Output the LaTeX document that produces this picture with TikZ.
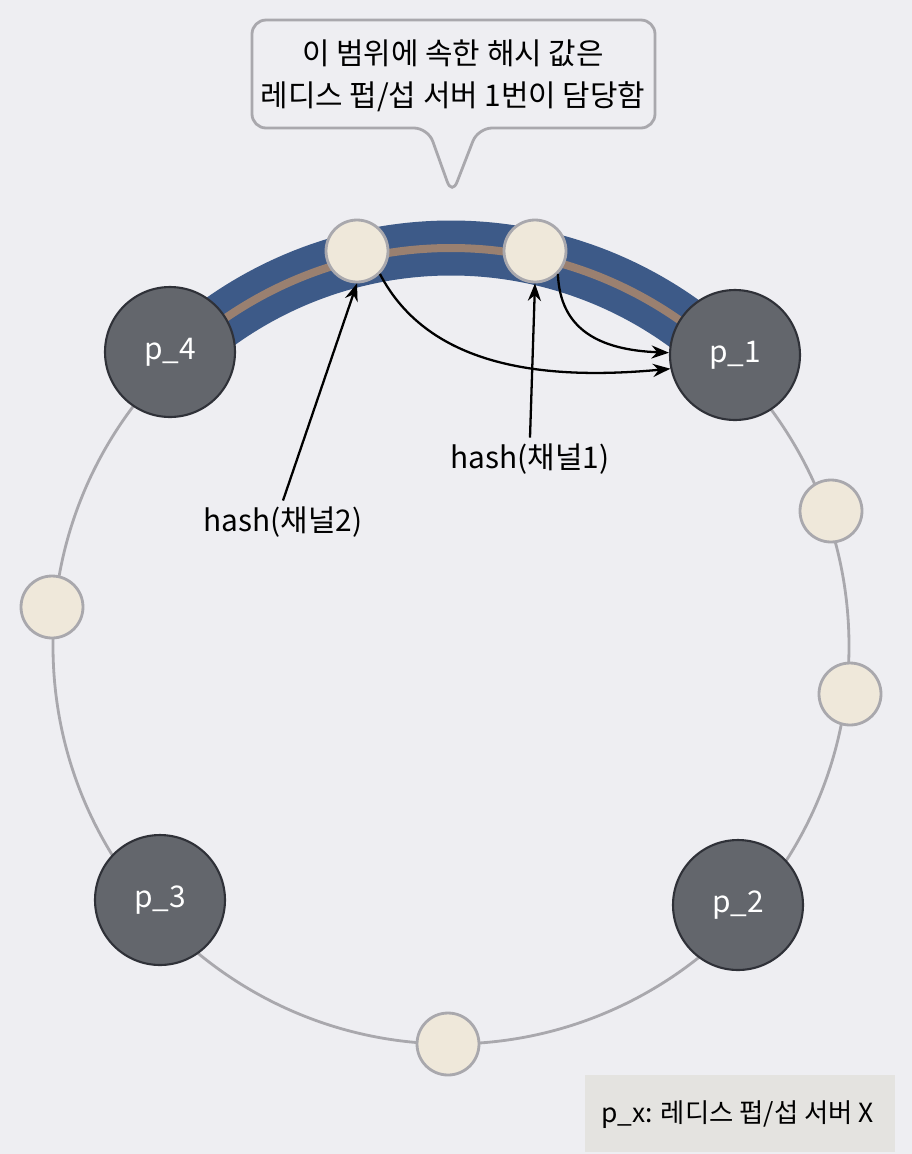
\documentclass[tikz,border=0pt]{standalone}
\usepackage{fontspec}
\setmainfont{Noto Sans CJK KR}
\usetikzlibrary{arrows.meta}
\definecolor{bgcol}{HTML}{EEEEF2}
\definecolor{ringcol}{HTML}{A9A8AD}
\definecolor{bandcol}{HTML}{3D5A88}
\definecolor{browncol}{HTML}{9A8070}
\definecolor{servfill}{HTML}{63666C}
\definecolor{servdraw}{HTML}{2F3138}
\definecolor{hashfill}{HTML}{EFE8DA}
\definecolor{legfill}{HTML}{E4E3E0}
\begin{document}
\begin{tikzpicture}[x=0.02cm,y=-0.02cm,
	server/.style={circle, minimum size=2.6cm, inner sep=0pt, fill=servfill, draw=servdraw, line width=1.2pt, text=white, font=\fontsize{17}{20}\selectfont},
	hashpt/.style={circle, minimum size=1.24cm, inner sep=0pt, fill=hashfill, draw=ringcol, line width=1.6pt},
	label/.style={font=\fontsize{17}{24}\selectfont, align=center},
	>={Stealth[length=3.5mm]}]
	
	%Background
	\fill[bgcol] (0,0) rectangle (912,1154);
	\useasboundingbox (0,0) rectangle (912,1154);
	
	%Ring and band
	\draw[ringcol, line width=1.6pt] (451,646) circle [radius=398*0.02cm];
	\draw[bandcol, line width=1.1cm] (451,646) ++(137:398*0.02cm) arc[start angle=137, end angle=43, radius=398*0.02cm];
	\draw[browncol, line width=0.16cm] (451,646) ++(137:398*0.02cm) arc[start angle=137, end angle=43, radius=398*0.02cm];
	
	%Nodes
	\node[server] (p4) at (170,352) {p\_4};
	\node[server] (p1) at (735,355) {p\_1};
	\node[server] (p3) at (160,900) {p\_3};
	\node[server] (p2) at (738,905) {p\_2};
	\node[hashpt] (h1) at (357,251) {};
	\node[hashpt] (h2) at (535,251) {};
	\node[hashpt] (h3) at (831,511) {};
	\node[hashpt] (h4) at (850,694) {};
	\node[hashpt] (h5) at (448,1044) {};
	\node[hashpt] (h6) at (52,607) {};
	\node[label] (lab2) at (283,522) {hash(채널2)};
	\node[label] (lab1) at (530,459) {hash(채널1)};
	
	%Callout
	\draw[ringcol, line width=1.6pt, fill=bgcol, rounded corners=8pt]
		(252,20) -- (655,20) -- (655,128) -- (478,128) -- (452,195) -- (428,128) -- (252,128) -- cycle;
	\node[label] (note) at (453,76) {이 범위에 속한 해시 값은\\레디스 펍/섭 서버 1번이 담당함};
	
	%Legend
	\fill[legfill] (585,1075) rectangle (895,1152);
	\node[label, font=\fontsize{15}{20}\selectfont, anchor=east] (legend) at (880,1115) {p\_x: 레디스 펍/섭 서버 X};
	
	%Lines
	\draw[black, line width=1.3pt, ->] (lab2.north) -- (h1.south);
	\draw[black, line width=1.3pt, ->] (lab1.north) -- (h2.south);
	\draw[black, line width=1.3pt, ->] (h1.south east) .. controls (430,370) and (550,380) .. (p1.192);
	\draw[black, line width=1.3pt, ->] (h2.south east) .. controls (560,330) and (600,350) .. (p1.178);
\end{tikzpicture}
\end{document}
